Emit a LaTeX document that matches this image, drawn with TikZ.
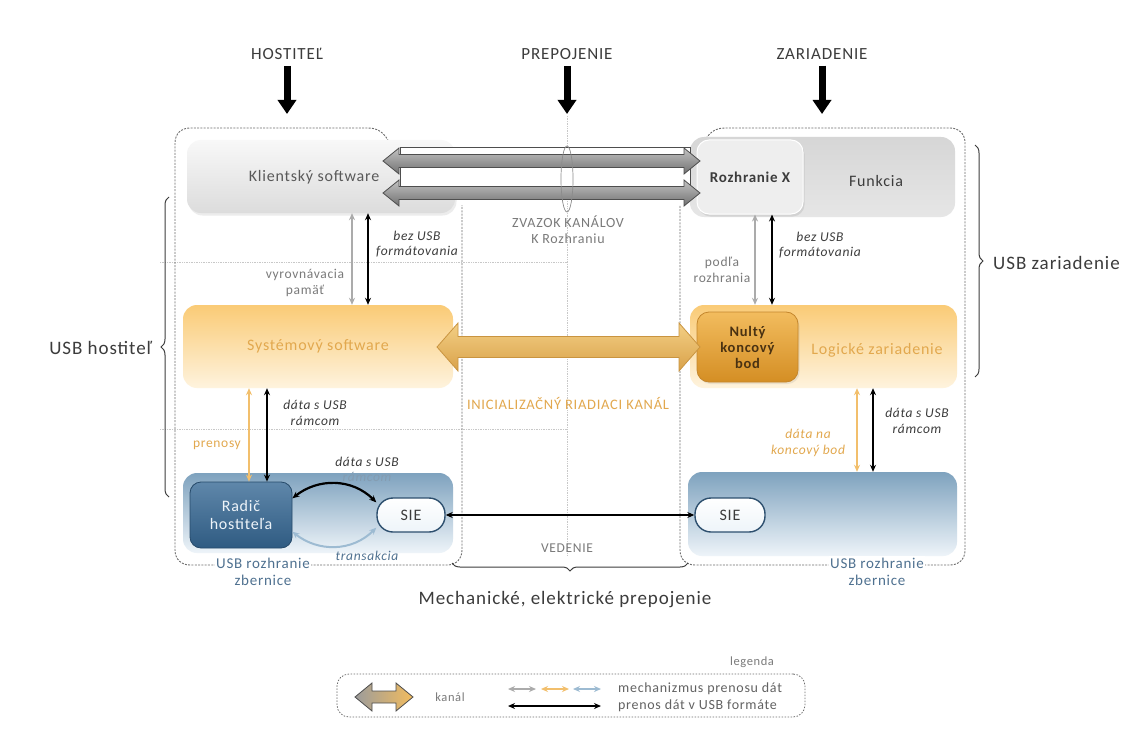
\documentclass[tikz,border=0pt]{standalone}
\usepackage{fontspec}
\setmainfont{Carlito}[LetterSpace=5]
\usetikzlibrary{arrows.meta,decorations.pathreplacing,shadows}

\definecolor{txtdark}{HTML}{3C3C3C}
\definecolor{txtgray}{HTML}{7A7A7A}
\definecolor{goldtext}{HTML}{E2A84E}
\definecolor{bluetext}{HTML}{4F7190}
\definecolor{contc}{HTML}{6E6E6E}
\definecolor{gridc}{HTML}{C8C8C8}
\definecolor{gA}{HTML}{F8F8F8}
\definecolor{gB}{HTML}{DCDCDC}
\definecolor{fA}{HTML}{D6D6D6}
\definecolor{fB}{HTML}{E6E6E6}
\definecolor{rxf}{HTML}{EEEEEE}
\definecolor{orA}{HTML}{FACB76}
\definecolor{orB}{HTML}{FEF3DE}
\definecolor{nulA}{HTML}{F2BC5E}
\definecolor{nulB}{HTML}{D48E24}
\definecolor{nulD}{HTML}{C4862C}
\definecolor{nultxt}{HTML}{4A3212}
\definecolor{blA}{HTML}{7EA2BE}
\definecolor{blB}{HTML}{EEF4F9}
\definecolor{rdA}{HTML}{5F87AA}
\definecolor{rdB}{HTML}{2F5B82}
\definecolor{rdD}{HTML}{264A6A}
\definecolor{sieD}{HTML}{2D4F6E}
\definecolor{pipeA}{HTML}{C2C2C2}
\definecolor{pipeB}{HTML}{717171}
\definecolor{pipeD}{HTML}{4E4E4E}
\definecolor{chA}{HTML}{F3CF85}
\definecolor{chB}{HTML}{D9A24A}
\definecolor{chD}{HTML}{C99440}
\definecolor{arrgray}{HTML}{ABABAB}
\definecolor{arrgold}{HTML}{F2BF6C}
\definecolor{arrblue}{HTML}{9DBBD2}

% double-headed channel outline: x-left, x-right, y-centre, half shaft, half head, head length
\newcommand\chanpath[6]{(#1,#3) -- ++(#6,-#5) -- ++(0,#5-#4) -- (#2-#6,#3-#4) -- ++(0,#4-#5) -- (#2,#3) -- ++(-#6,#5) -- ++(0,#4-#5) -- (#1+#6,#3+#4) -- ++(0,#5-#4) -- cycle}

\begin{document}
\begin{tikzpicture}[x=1pt,y=-1pt,
  every node/.style={inner sep=0pt, text=txtdark},
  hdr/.style={font=\fontsize{17}{19}\selectfont},
  bigarrow/.style={line width=7pt, -{Triangle[length=14pt,width=18pt]}},
  box/.style={rounded corners=14pt, font=\fontsize{16}{18}\selectfont},
  note/.style={font=\fontsize{13.5}{15.5}\selectfont\itshape, align=center},
  plain/.style={font=\fontsize{13.5}{15.5}\selectfont, align=center},
  cont/.style={draw=contc, line width=0.9pt, dash pattern=on 2pt off 1.3pt},
  grid/.style={draw=gridc, line width=0.7pt, densely dotted},
  tips/.style={{Stealth[length=7pt,width=6pt]}-{Stealth[length=7pt,width=6pt]}},
  blackarr/.style={tips, line width=2.2pt, draw=black},
  grayarr/.style={tips, line width=2pt, draw=arrgray},
  goldarr/.style={tips, line width=2pt, draw=arrgold},
  brace/.style={draw=txtdark, line width=1pt, decorate, decoration={brace, amplitude=8pt}},
]
\useasboundingbox (0,0) rectangle (1134,738);
\fill[white] (0,0) rectangle (1134,738);

% column headings with their pointers
\node[hdr] (hHost) at (287,54) {HOSTITEĽ};
\node[hdr] (hLink) at (567,54) {PREPOJENIE};
\node[hdr] (hDev)  at (822,54) {ZARIADENIE};
\coordinate (tHost) at (287,114);
\coordinate (tLink) at (567,114);
\coordinate (tDev)  at (822,114);
\draw[bigarrow, shorten <=6pt] (hHost) -- (tHost);
\draw[bigarrow, shorten <=6pt] (hLink) -- (tLink);
\draw[bigarrow, shorten <=6pt] (hDev) -- (tDev);

% faint guide lines
\coordinate (midTop) at (567,116);
\coordinate (midBot) at (567,556);
\draw[grid] (midTop) -- (midBot);
\coordinate (gA1) at (160,262); \coordinate (gA2) at (567,262);
\coordinate (gB1) at (160,429); \coordinate (gB2) at (567,429);
\draw[grid] (gA1) -- (gA2);
\draw[grid] (gB1) -- (gB2);

% host and device outlines
\draw[cont] (393,150) .. controls (387,137) and (382,128) .. (368,128) -- (190,128)
  .. controls (181,128) and (175,134) .. (175,143) -- (175,550)
  .. controls (175,559) and (181,565) .. (190,565) -- (447,565)
  .. controls (456,565) and (462,559) .. (462,550) -- (462,205);
\draw[cont] (700,150) .. controls (706,137) and (711,128) .. (725,128) -- (950,128)
  .. controls (959,128) and (965,134) .. (965,143) -- (965,550)
  .. controls (965,559) and (959,565) .. (950,565) -- (695,565)
  .. controls (686,565) and (680,559) .. (680,550) -- (680,205);

% top layer
\node[box, minimum width=268pt, minimum height=73pt, top color=gA, bottom color=gB,
  drop shadow={opacity=.15, shadow xshift=1.5pt, shadow yshift=-2.5pt}] (client) at (321,176.5) {};
\node[box, text=txtdark!85] (clientl) at (314,177) {Klientský software};
\node[box, minimum width=265pt, minimum height=80pt, top color=fA, bottom color=fB] (func) at (822.5,177) {};
\node[box] (funcl) at (876,181) {Funkcia};
\node[box, rounded corners=12pt, minimum width=106pt, minimum height=74pt, fill=rxf, draw=white, line width=1pt,
  font=\fontsize{15}{17}\selectfont,
  drop shadow={opacity=.18, shadow xshift=1.5pt, shadow yshift=-2.5pt}] (rozx) at (750,177) {\bfseries Rozhranie X};

% bundle of interface pipes
\draw[pipeD, line width=0.8pt, fill=white] (400,147) rectangle (690,155);
\draw[pipeD, line width=0.8pt, fill=white] (400,167) rectangle (690,187);
\path[draw=pipeD, line width=0.8pt, top color=pipeA, bottom color=pipeB] \chanpath{383}{700}{161}{6.5}{13}{16};
\path[draw=pipeD, line width=0.8pt, top color=pipeA, bottom color=pipeB] \chanpath{383}{700}{193}{6.5}{13}{16};
\draw[gridc!70!black, line width=0.7pt] (567,179) ellipse [x radius=6, y radius=33];
\node[plain, font=\fontsize{14}{16}\selectfont, text=txtgray] (bundle) at (568,230) {ZVAZOK KANÁLOV\\K Rozhraniu};

% middle layer
\node[box, minimum width=270pt, minimum height=83pt, top color=orA, bottom color=orB, text=goldtext] (sys) at (318,346.5) {Systémový software};
\node[box, minimum width=267pt, minimum height=83pt, top color=orA, bottom color=orB] (logic) at (823.5,346.5) {};
\node[box, text=goldtext] (logicl) at (877,350) {Logické zariadenie};
\node[box, rounded corners=12pt, minimum width=101pt, minimum height=70pt, top color=nulA, bottom color=nulB, draw=nulD,
  line width=0.8pt, align=center, font=\fontsize{14.5}{16}\selectfont\bfseries, text=nultxt,
  drop shadow={opacity=.15, shadow xshift=1.5pt, shadow yshift=-2pt}] (nul) at (747.5,347) {Nultý\\koncový\\bod};
\path[draw=chD, line width=0.8pt, top color=chA, bottom color=chB] \chanpath{437}{700}{347}{10.5}{24}{21};
\node[plain, font=\fontsize{14.5}{16}\selectfont, text=goldtext] (initc) at (568,403) {INICIALIZAČNÝ RIADIACI KANÁL};

% bottom layer
\node[box, minimum width=270pt, minimum height=80pt, top color=blA, bottom color=blB] (busL) at (318,513) {};
\node[box, minimum width=269pt, minimum height=84pt, top color=blA, bottom color=blB] (busR) at (822.5,514) {};
\node[box, rounded corners=11pt, minimum width=102pt, minimum height=66pt, top color=rdA, bottom color=rdB, draw=rdD,
  line width=0.8pt, align=center, text=blB] (radic) at (241,515) {Radič\\hostiteľa};
\node[box, rounded corners=16pt, minimum width=68pt, minimum height=34pt, top color=white, bottom color=blB, draw=sieD,
  line width=1.4pt] (sieL) at (411,515) {SIE};
\node[box, rounded corners=16pt, minimum width=70pt, minimum height=34pt, top color=white, bottom color=blB, draw=sieD,
  line width=1.4pt] (sieR) at (730,515) {SIE};

% wire between the two serial engines
\draw[tips, line width=1.3pt] (sieL) -- (sieR);
\node[plain, text=txtgray] (wire) at (567,548) {VEDENIE};

% host controller exchange with its SIE
\draw[blackarr] (radic.18) .. controls (318,478) and (352,478) .. (sieL.160);
\draw[tips, line width=2pt, draw=arrblue] (radic.-18) .. controls (318,552) and (352,552) .. (sieL.-160);
\node[note, text=txtdark] (rfA) at (367,462) {dáta s USB};
\node[note, text=bluetext!70] (rfB) at (367,477) {rámcom};
\node[note, text=bluetext] (trans) at (367,556) {transakcia};

% vertical data paths, host side
\coordinate (xg1) at (352,0); \coordinate (xk1) at (368,0);
\draw[grayarr]  (client.south -| xg1) -- (sys.north -| xg1);
\draw[blackarr] (client.south -| xk1) -- (sys.north -| xk1);
\node[note] (nbz1) at (417,244) {bez USB\\formátovania};
\node[plain, text=txtgray] (nbuf) at (305,283) {vyrovnávacia\\pamäť};

\coordinate (xo1) at (249,0); \coordinate (xk2) at (267,0);
\draw[goldarr]  (sys.south -| xo1) -- (radic.north -| xo1);
\draw[blackarr] (sys.south -| xk2) -- (radic.north -| xk2);
\node[note] (nfr1) at (315,413) {dáta s USB\\rámcom};
\node[plain, text=goldtext] (ntr) at (217,445) {prenosy};

% vertical data paths, device side
\coordinate (xg2) at (755,0); \coordinate (xk3) at (772,0);
\draw[grayarr]  (rozx.south -| xg2) -- (logic.north -| xg2);
\draw[blackarr] (rozx.south -| xk3) -- (logic.north -| xk3);
\node[note] (nbz2) at (820,245) {bez USB\\formátovania};
\node[plain, text=txtgray] (nif) at (722,270) {podľa\\rozhrania};

\coordinate (xo2) at (857,0); \coordinate (xk4) at (873,0);
\draw[goldarr]  (logic.south -| xo2) -- (busR.north -| xo2);
\draw[blackarr] (logic.south -| xk4) -- (busR.north -| xk4);
\node[note] (nfr2) at (917,421) {dáta s USB\\rámcom};
\node[note, text=goldtext] (nep) at (808,443) {dáta na\\koncový bod};

% bus interface captions on the outlines
\node[plain, fill=white, inner sep=1.5pt, text=bluetext, anchor=north, font=\fontsize{15}{17}\selectfont] (capL) at (263,556) {USB rozhranie\\zbernice};
\node[plain, fill=white, inner sep=1.5pt, text=bluetext, anchor=north, font=\fontsize{15}{17}\selectfont] (capR) at (877,556) {USB rozhranie\\zbernice};

% braces
\coordinate (bhA) at (169,497); \coordinate (bhB) at (169,197);
\draw[brace] (bhA) -- (bhB);
\node[anchor=east, font=\fontsize{19}{21}\selectfont] (lhost) at (152,348) {USB hostiteľ};
\coordinate (bdA) at (975,145); \coordinate (bdB) at (975,377);
\draw[brace] (bdA) -- (bdB);
\node[anchor=west, font=\fontsize{19}{21}\selectfont] (ldev) at (993,263) {USB zariadenie};
\coordinate (bmA) at (688,563); \coordinate (bmB) at (452,563);
\draw[brace] (bmA) -- (bmB);
\node[font=\fontsize{19}{21}\selectfont] (lmech) at (565,600) {Mechanické, elektrické prepojenie};

% legend
\node[plain, font=\fontsize{12.5}{14}\selectfont, text=txtgray] (legt) at (752,662) {legenda};
\node[draw=contc, dash pattern=on 1.5pt off 1.5pt, line width=0.8pt, rounded corners=12pt, minimum width=468pt, minimum height=43pt] (leg) at (571,695.5) {};
\path[draw=pipeD, line width=0.8pt, left color=pipeB!70, right color=nulA] \chanpath{355}{413}{697}{6}{14}{17};
\node[plain, font=\fontsize{12.5}{14}\selectfont, text=txtgray] (legk) at (450,697) {kanál};
\coordinate (lg1a) at (508,689); \coordinate (lg1b) at (536,689);
\coordinate (lg2a) at (541,689); \coordinate (lg2b) at (569,689);
\coordinate (lg3a) at (573,689); \coordinate (lg3b) at (601,689);
\coordinate (lg4a) at (508,706); \coordinate (lg4b) at (601,706);
\draw[tips, line width=1.5pt, draw=arrgray] (lg1a) -- (lg1b);
\draw[tips, line width=1.5pt, draw=arrgold] (lg2a) -- (lg2b);
\draw[tips, line width=1.5pt, draw=arrblue] (lg3a) -- (lg3b);
\draw[blackarr] (lg4a) -- (lg4b);
\node[anchor=west, font=\fontsize{14}{16}\selectfont, text=txtgray!80!black] (legm) at (618,689) {mechanizmus prenosu dát};
\node[anchor=west, font=\fontsize{14}{16}\selectfont, text=txtgray!80!black] (legp) at (618,706) {prenos dát v USB formáte};
\end{tikzpicture}
\end{document}
